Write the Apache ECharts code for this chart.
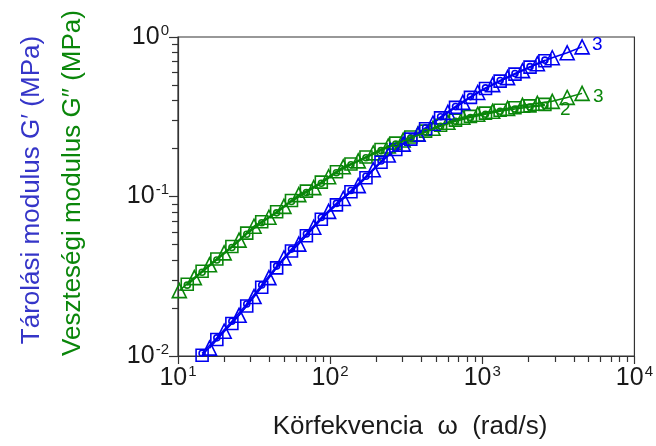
<!DOCTYPE html>
<html>
<head>
<meta charset="utf-8">
<script src="https://cdn.jsdelivr.net/npm/echarts@6/dist/echarts.min.js"></script>
<style>
  html, body { margin: 0; padding: 0; background: #fff; }
  #chart { width: 656px; height: 446px; }
</style>
</head>
<body>
<div id="chart"></div>
<script>
// angular frequency (rad/s) of the measured points
const freqTri = [10.2, 12.8, 16.1, 20.1, 25.2, 31.6, 39.6, 49.7, 62.2, 78.0, 97.7, 122, 153, 192, 241,
  302, 378, 474, 594, 745, 933, 1170, 1466, 1837, 2301, 2884, 3614, 4529];
const freqSq = [11.5, 14.4, 18.0, 22.6, 28.3, 35.5, 44.5, 55.7, 69.8, 87.5, 110, 137, 172, 216, 270,
  339, 424, 532, 667, 836, 1050, 1310, 1640, 2060, 2580];

// storage modulus G' (MPa), blue
const gp1 = [0.0101, 0.0127, 0.0160, 0.0206, 0.0270, 0.0357, 0.0455, 0.0568, 0.0720, 0.0886, 0.107, 0.131,
  0.164, 0.197, 0.229, 0.266, 0.311, 0.362, 0.418, 0.475, 0.529, 0.585, 0.647, 0.710]; // freqSq from 14.4
const gp2 = [0.0104, 0.0130, 0.0165, 0.0212, 0.0279, 0.0366, 0.0468, 0.0583, 0.0738, 0.0905, 0.109, 0.134,
  0.167, 0.200, 0.233, 0.270, 0.316, 0.367, 0.423, 0.480, 0.534, 0.590, 0.652, 0.716]; // freqSq from 14.4
const gp3 = [0.0112, 0.0143, 0.0180, 0.0236, 0.0310, 0.0412, 0.0503, 0.0642, 0.0807, 0.0972, 0.117, 0.147,
  0.182, 0.213, 0.246, 0.288, 0.337, 0.389, 0.449, 0.503, 0.556, 0.615, 0.680, 0.741, 0.796, 0.867]; // freqTri from 16.1

// loss modulus G'' (MPa), green
const gpp1 = [0.0282, 0.0340, 0.0406, 0.0486, 0.0589, 0.0695, 0.0802, 0.0944, 0.108, 0.123, 0.143, 0.160,
  0.177, 0.197, 0.216, 0.236, 0.257, 0.280, 0.301, 0.318, 0.333, 0.347, 0.360, 0.370, 0.378];
const gpp2 = [0.0278, 0.0335, 0.0400, 0.0479, 0.0580, 0.0685, 0.0790, 0.0930, 0.106, 0.121, 0.141, 0.158,
  0.175, 0.194, 0.213, 0.232, 0.253, 0.276, 0.296, 0.313, 0.328, 0.342, 0.354, 0.364, 0.372];
const gpp3 = [0.0257, 0.0310, 0.0373, 0.0443, 0.0533, 0.0651, 0.0741, 0.0867, 0.1028, 0.1137, 0.133, 0.1536,
  0.1673, 0.1876, 0.2074, 0.226, 0.246, 0.268, 0.292, 0.314, 0.328, 0.342, 0.357, 0.373, 0.384, 0.395, 0.418, 0.443];

// ticks
const xMajor = [10, 100, 1000, 10000];
const xMinor = [20, 30, 40, 50, 60, 70, 80, 90, 200, 300, 400, 500, 600, 700, 800, 900,
  2000, 3000, 4000, 5000, 6000, 7000, 8000, 9000];
const yMajor = [0.01, 0.1, 1];
const yMinor = [0.02, 0.03, 0.04, 0.05, 0.06, 0.07, 0.08, 0.09, 0.2, 0.3, 0.4, 0.5, 0.6, 0.7, 0.8, 0.9];

const BLUE = '#0000f0';
const GREEN = '#0a860a';
const AXIS = '#333';
const FONT = '"Liberation Sans", Arial, sans-serif';

function pairs(xs, ys, offset) {
  return ys.map((y, i) => [xs[i + offset], y]);
}

function powLabel(v) {
  return '{b|10}{s|' + Math.round(Math.log10(v)) + '}';
}

const labelRich = {
  b: { fontSize: 25, fontFamily: FONT, color: '#1a1a1a' },
  s: { fontSize: 15, fontFamily: FONT, color: '#1a1a1a', padding: [0, 0, 13, 1] },
};

function line(name, data, color, symbol, size, endLabel, z) {
  const s = {
    name: name,
    type: 'line',
    data: data,
    symbol: symbol,
    symbolSize: size,
    showAllSymbol: true,
    z: z || 2,
    lineStyle: { color: color, width: 1.5 },
    itemStyle: { color: 'rgba(255,255,255,0)', borderColor: color, borderWidth: 1.6 },
    emphasis: { disabled: true },
    clip: true,
  };
  if (endLabel) {
    s.endLabel = Object.assign({
      show: true, color: color, fontSize: 19, fontFamily: FONT, distance: 3,
    }, endLabel);
  }
  return s;
}

const chart = echarts.init(document.getElementById('chart'));
chart.setOption({
  animation: false,
  grid: { left: 178, right: 20, top: 37, bottom: 90, show: true, borderColor: AXIS, borderWidth: 1.2 },
  xAxis: [
    {
      type: 'log', logBase: 10, min: 10, max: 10000,
      axisLine: { lineStyle: { color: AXIS, width: 1.2 } },
      axisTick: { customValues: xMajor, length: 8, lineStyle: { color: AXIS, width: 1.2 } },
      axisLabel: { customValues: xMajor, formatter: powLabel, rich: labelRich, margin: 8 },
      splitLine: { show: false },
    },
    {
      type: 'log', logBase: 10, min: 10, max: 10000, position: 'bottom',
      axisLine: { show: false },
      axisTick: { customValues: xMinor, length: 6, lineStyle: { color: AXIS, width: 1.2 } },
      axisLabel: { show: false },
      splitLine: { show: false },
    },
  ],
  yAxis: [
    {
      type: 'log', logBase: 10, min: 0.01, max: 1,
      axisLine: { show: true, lineStyle: { color: AXIS, width: 1.2 } },
      axisTick: { show: true, customValues: yMajor, length: 9, lineStyle: { color: AXIS, width: 1.2 } },
      axisLabel: { customValues: yMajor, formatter: powLabel, rich: labelRich, margin: 9 },
      splitLine: { show: false },
    },
    {
      type: 'log', logBase: 10, min: 0.01, max: 1, position: 'left',
      axisLine: { show: false },
      axisTick: { show: true, customValues: yMinor, length: 6, lineStyle: { color: AXIS, width: 1.2 } },
      axisLabel: { show: false },
      splitLine: { show: false },
    },
  ],
  graphic: [
    {
      type: 'text', x: 32, y: 190, rotation: Math.PI / 2,
      style: { text: 'Tárolási modulus G′ (MPa)', fill: '#3535c8', font: '26px ' + FONT, align: 'center', verticalAlign: 'middle' },
    },
    {
      type: 'text', x: 73, y: 183, rotation: Math.PI / 2,
      style: { text: 'Veszteségi modulus G″ (MPa)', fill: GREEN, font: '26px ' + FONT, align: 'center', verticalAlign: 'middle' },
    },
    {
      type: 'text', x: 410, y: 427,
      style: { text: 'Körfekvencia  ω  (rad/s)', fill: '#1a1a1a', font: '26px ' + FONT, align: 'center', verticalAlign: 'middle' },
    },
  ],
  series: [
    line('G″ 1', pairs(freqSq, gpp1, 0), GREEN, 'rect', 12, null),
    line('G″ 2', pairs(freqSq, gpp2, 0), GREEN, 'circle', 6, { formatter: '2', offset: [12, 4] }, 4),
    line('G″ 3', pairs(freqTri, gpp3, 0), GREEN, 'triangle', 14, { formatter: '3', offset: [8, 3] }),
    line('G′ 1', pairs(freqSq, gp1, 1), BLUE, 'rect', 12, null),
    line('G′ 2', pairs(freqSq, gp2, 1), BLUE, 'circle', 6, null),
    line('G′ 3', pairs(freqTri, gp3, 2), BLUE, 'triangle', 14, { formatter: '3', offset: [7, -2] }),
  ],
});
</script>
</body>
</html>
